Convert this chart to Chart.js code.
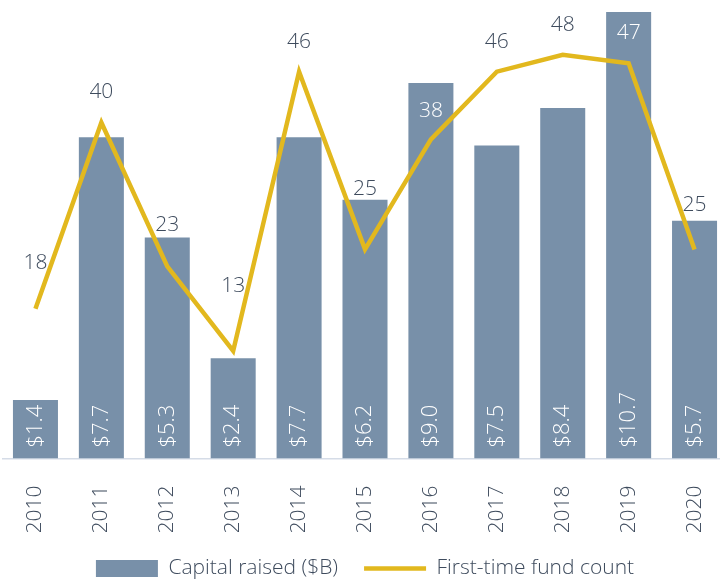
<!DOCTYPE html>
<html>
<head>
<meta charset="utf-8">
<script src="https://cdn.jsdelivr.net/npm/chart.js@4/dist/chart.umd.min.js"></script>
<style>
  html, body { margin: 0; padding: 0; background: #fff; overflow: hidden; }
  /* canvas is a little larger than the view: the last bar is cut off at the right edge */
  #wrap { width: 720px; height: 581px; overflow: hidden; }
</style>
</head>
<body>
<div id="wrap"><canvas id="chart" width="728" height="589"></canvas></div>
<script>
const years = ['2010', '2011', '2012', '2013', '2014', '2015', '2016', '2017', '2018', '2019', '2020'];
const capitalRaised = [1.4, 7.7, 5.3, 2.4, 7.7, 6.2, 9.0, 7.5, 8.4, 10.7, 5.7];
const fundCount = [18, 40, 23, 13, 46, 25, 38, 46, 48, 47, 25];

const COLORS = {
  bar: '#7890a9',
  line: '#e2b81e',
  text: '#3e4b5d',
  axis: '#d5dce7',
};
const FONT = "'Open Sans', 'Noto Sans', sans-serif";

// how far each count label sits above its point (px)
const countLabelLift = [46, 30, 41, 65, 30, 60, 28, 30, 30, 30, 44];

const labelPlugin = {
  id: 'valueLabels',
  afterDatasetsDraw(chart) {
    const { ctx } = chart;
    const barMeta = chart.getDatasetMeta(0);
    const lineMeta = chart.getDatasetMeta(1);
    const baseY = chart.scales.x.top;

    ctx.save();
    // capital labels, rotated inside bars
    ctx.font = `300 22px ${FONT}`;
    ctx.fillStyle = '#ffffff';
    ctx.textAlign = 'left';
    ctx.textBaseline = 'middle';
    barMeta.data.forEach((bar, i) => {
      ctx.save();
      ctx.translate(bar.x, baseY - 11);
      ctx.rotate(-Math.PI / 2);
      ctx.fillText('$' + capitalRaised[i].toFixed(1), 0, 0);
      ctx.restore();
    });

    // fund count labels
    ctx.font = `300 21px ${FONT}`;
    ctx.textAlign = 'center';
    lineMeta.data.forEach((pt, i) => {
      const y = pt.y - countLabelLift[i];
      const bar = barMeta.data[i];
      const inside = y > bar.y && Math.abs(pt.x - bar.x) < bar.width / 2;
      ctx.fillStyle = inside ? '#ffffff' : COLORS.text;
      ctx.fillText(String(fundCount[i]), pt.x, y);
    });
    ctx.restore();
  }
};

new Chart(document.getElementById('chart'), {
  data: {
    labels: years,
    datasets: [
      {
        type: 'bar',
        label: 'Capital raised ($B)',
        data: capitalRaised,
        backgroundColor: COLORS.bar,
        borderWidth: 0,
        barPercentage: 0.683,
        categoryPercentage: 1,
        pointStyle: 'rect',
        yAxisID: 'y',
        order: 2,
      },
      {
        type: 'line',
        label: 'First-time fund count',
        data: fundCount,
        borderColor: COLORS.line,
        backgroundColor: COLORS.line,
        borderWidth: 4.5,
        pointRadius: 0,
        pointStyle: 'line',
        tension: 0,
        yAxisID: 'y2',
        order: 1,
      },
    ],
  },
  options: {
    responsive: false,
    animation: false,
    layout: { padding: { left: 2.5, right: 0.5, top: 0, bottom: 0 } },
    plugins: {
      legend: {
        position: 'bottom',
        labels: {
          usePointStyle: true,
          pointStyleWidth: 62,
          boxHeight: 17,
          padding: 26,
          color: COLORS.text,
          font: { family: FONT, size: 21, weight: 300 },
          sort: (a, b) => a.datasetIndex - b.datasetIndex,
        },
      },
      tooltip: { enabled: false },
    },
    scales: {
      x: {
        grid: { display: false, drawTicks: false },
        border: { color: COLORS.axis, width: 1.5 },
        ticks: {
          color: COLORS.text,
          font: { family: FONT, size: 21, weight: 300 },
          minRotation: 90,
          maxRotation: 90,
          padding: 27,
        },
        afterFit(scale) {
          scale.paddingLeft = 0;
          scale.paddingRight = 0;
          scale.height = 73.5;
        },
      },
      y: { display: false, min: 0, max: 10.99 },
      y2: { display: false, min: 0.29, max: 54.47 },
    },
  },
  plugins: [labelPlugin],
});
</script>
</body>
</html>
